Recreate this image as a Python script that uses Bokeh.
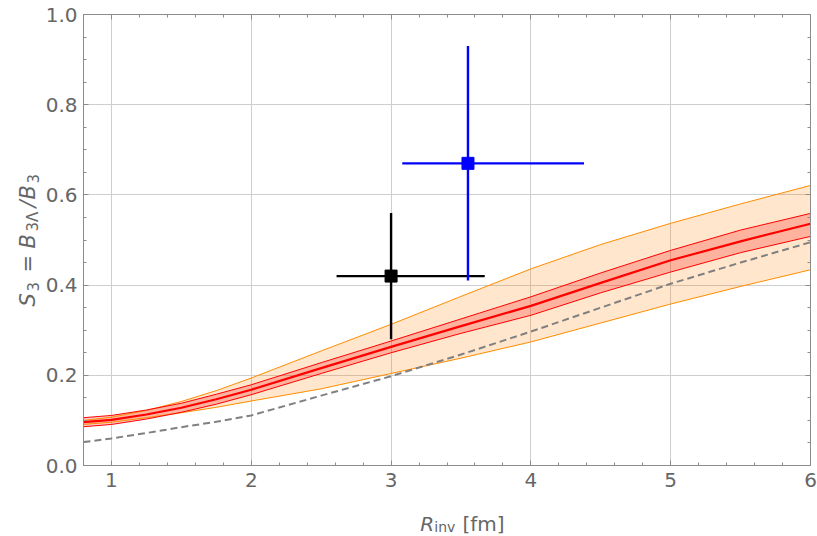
import math
from bokeh.plotting import figure
from bokeh.layouts import row, column
from bokeh.models import (Range1d, SingleIntervalTicker, LinearAxis, NumeralTickFormatter,
                          CustomLabelingPolicy)
from bokeh.core.properties import value
from bokeh.embed import file_html
from bokeh.resources import INLINE

# ---------------- data ----------------
r_inv = [0.8, 1.0, 1.25, 1.5, 1.75, 2.0, 2.5, 3.0, 3.5, 4.0, 4.5, 5.0, 5.5, 6.0]
s3_central = [0.096, 0.101, 0.113, 0.128, 0.147, 0.168, 0.216, 0.263, 0.309, 0.354, 0.405, 0.455, 0.497, 0.536]
s3_red_hi = [0.106, 0.111, 0.123, 0.138, 0.158, 0.179, 0.228, 0.276, 0.325, 0.374, 0.427, 0.477, 0.522, 0.559]
s3_red_lo = [0.086, 0.091, 0.103, 0.118, 0.136, 0.157, 0.204, 0.250, 0.293, 0.333, 0.383, 0.429, 0.472, 0.508]
s3_orange_hi = [0.100, 0.107, 0.122, 0.142, 0.166, 0.194, 0.254, 0.313, 0.375, 0.436, 0.490, 0.537, 0.580, 0.621]
s3_orange_lo = [0.091, 0.096, 0.106, 0.117, 0.129, 0.143, 0.170, 0.204, 0.238, 0.274, 0.316, 0.358, 0.397, 0.434]
s3_dashed = [0.052, 0.060, 0.072, 0.085, 0.097, 0.111, 0.155, 0.198, 0.246, 0.297, 0.350, 0.403, 0.450, 0.495]

pt_black_x = [3.0]
pt_black_y = [0.42]
pt_black_xerr_lo = [0.39]
pt_black_xerr_hi = [0.67]
pt_black_yerr = [0.14]

pt_blue_x = [3.55]
pt_blue_y = [0.67]
pt_blue_xerr_lo = [0.47]
pt_blue_xerr_hi = [0.83]
pt_blue_yerr = [0.26]

x_ticks_interval = 1
y_ticks_interval = 0.2

x_title = ["R", "inv", "[fm]"]
y_title = ["S", "3", "=", "B", "3Λ", "/", "B", "3"]

# ---------------- styles ----------------
FONT = "DejaVu Sans"
TICK_COLOR = "#666666"
AXIS_COLOR = "#8c8c8c"
GRID_COLOR = "#cecece"

TOTAL_W, TOTAL_H = 817, 536
YLAB_W = 42
MAIN_W = TOTAL_W - YLAB_W
MAIN_H = 500
XLAB_H = TOTAL_H - MAIN_H

# ---------------- main figure ----------------
p = figure(width=MAIN_W, height=MAIN_H, x_range=Range1d(0.8, 6.0), y_range=Range1d(0.0, 1.0),
           output_backend="svg", toolbar_location=None,
           min_border_left=38, min_border_right=7, min_border_top=14, min_border_bottom=35)
p.background_fill_color = "white"
p.border_fill_color = "white"
p.outline_line_color = AXIS_COLOR

xt = SingleIntervalTicker(interval=x_ticks_interval, num_minor_ticks=5)
yt = SingleIntervalTicker(interval=y_ticks_interval, num_minor_ticks=4)

for ax in p.xaxis:
    ax.ticker = xt
for ax in p.yaxis:
    ax.ticker = yt
    ax.formatter = NumeralTickFormatter(format="0.0")

for ax in list(p.xaxis) + list(p.yaxis):
    ax.axis_line_color = AXIS_COLOR
    ax.major_tick_line_color = AXIS_COLOR
    ax.minor_tick_line_color = AXIS_COLOR
    ax.major_tick_in = 5
    ax.major_tick_out = 0
    ax.minor_tick_in = 3
    ax.minor_tick_out = 0
    ax.major_label_text_font = FONT
    ax.major_label_text_font_size = "20px"
    ax.major_label_text_color = TICK_COLOR
p.xaxis.major_label_standoff = 7
p.yaxis.major_label_standoff = 6

# frame ticks on the top and right edges (no labels)
def frame_axis(ticker):
    return LinearAxis(ticker=ticker, major_label_policy=CustomLabelingPolicy(code="return new Set()"),
                      major_label_text_font_size="1px", major_label_standoff=0,
                      major_tick_in=5, major_tick_out=0, minor_tick_in=3, minor_tick_out=0,
                      axis_line_color=AXIS_COLOR, major_tick_line_color=AXIS_COLOR,
                      minor_tick_line_color=AXIS_COLOR)

p.add_layout(frame_axis(xt), "above")
p.add_layout(frame_axis(yt), "right")

p.xgrid.ticker = xt
p.ygrid.ticker = yt
p.xgrid.grid_line_color = GRID_COLOR
p.ygrid.grid_line_color = GRID_COLOR

# ---------------- bands and curves ----------------
p.varea(x=r_inv, y1=s3_orange_lo, y2=s3_orange_hi, fill_color="#FF8000", fill_alpha=0.2)
p.varea(x=r_inv, y1=s3_red_lo, y2=s3_red_hi, fill_color="#FF0000", fill_alpha=0.22)
p.line(r_inv, s3_orange_hi, line_color="#FF8C00", line_width=1)
p.line(r_inv, s3_orange_lo, line_color="#FF8C00", line_width=1)
p.line(r_inv, s3_red_hi, line_color="#FF0000", line_width=1)
p.line(r_inv, s3_red_lo, line_color="#FF0000", line_width=1)
p.line(r_inv, s3_central, line_color="#FF0000", line_width=2.2)
p.line(r_inv, s3_dashed, line_color="#808080", line_width=2, line_dash="7 4")

# ---------------- data points with error bars ----------------
def errorbars(xs, ys, xlo, xhi, yerr, color):
    p.segment(x0=[a - b for a, b in zip(xs, xlo)], y0=ys,
              x1=[a + b for a, b in zip(xs, xhi)], y1=ys,
              line_color=color, line_width=2.4)
    p.segment(x0=xs, y0=[a - b for a, b in zip(ys, yerr)],
              x1=xs, y1=[a + b for a, b in zip(ys, yerr)],
              line_color=color, line_width=2.4)
    p.scatter(xs, ys, marker="square", size=12, fill_color=color, line_color=color)

errorbars(pt_black_x, pt_black_y, pt_black_xerr_lo, pt_black_xerr_hi, pt_black_yerr, "#000000")
errorbars(pt_blue_x, pt_blue_y, pt_blue_xerr_lo, pt_blue_xerr_hi, pt_blue_yerr, "#0000FF")

# ---------------- title strips (pixel coordinates, layout only) ----------------
def blank(w, h):
    f = figure(width=w, height=h, x_range=Range1d(0, w), y_range=Range1d(0, h),
               output_backend="svg", toolbar_location=None,
               min_border=0, min_border_left=0, min_border_right=0,
               min_border_top=0, min_border_bottom=0)
    f.axis.visible = False
    f.grid.visible = False
    f.outline_line_color = None
    f.background_fill_color = "white"
    f.border_fill_color = "white"
    return f

def put(f, x, y, text, size, italic=False, angle=0.0):
    f.text(x=[x], y=[y], text=[text], angle=angle,
           text_font=value(FONT), text_font_size=value(size),
           text_font_style=value("italic" if italic else "normal"),
           text_color=TICK_COLOR, text_align="left", text_baseline="alphabetic")

# x title strip below the main figure: strip x = page x - YLAB_W, strip y = page bottom - page y
xl = blank(MAIN_W, XLAB_H)
put(xl, 401 - YLAB_W, TOTAL_H - 523, x_title[0], "20px", italic=True)
put(xl, 416 - YLAB_W, TOTAL_H - 526.5, x_title[1], "14px")
put(xl, 446 - YLAB_W, TOTAL_H - 523, x_title[2], "20px")

# y title strip left of the main figure (rotated text reading upwards)
yl = blank(YLAB_W, TOTAL_H)
A = math.pi / 2
bx = 27
sbx = 32
sizes = ["21px", "15px", "21px", "21px", "15px", "21px", "21px", "15px"]
italics = [True, False, False, True, False, True, True, False]
starts = [306, 291, 272, 248, 231, 207, 199, 183]
for txt, sz, it, st in zip(y_title, sizes, italics, starts):
    put(yl, sbx if sz == "15px" else bx, TOTAL_H - st, txt, sz, italic=it, angle=A)

layout = row(yl, column(p, xl, spacing=0), spacing=0)

open("out.html", "w").write(file_html(layout, INLINE))
